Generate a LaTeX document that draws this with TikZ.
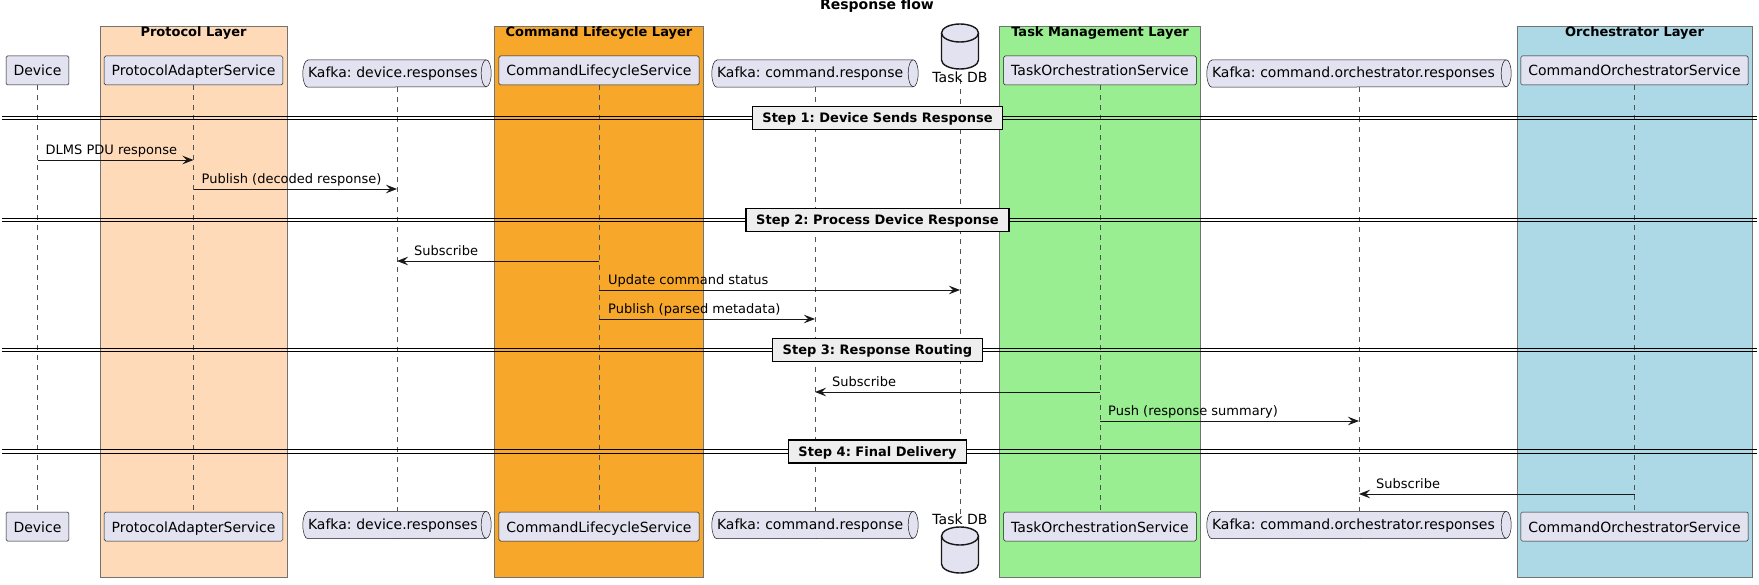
\documentclass[tikz,border=0pt]{standalone}
\usepackage{fontspec}
\setmainfont{DejaVu Sans}
\frenchspacing
\usetikzlibrary{arrows.meta,calc}
\definecolor{part}{HTML}{E2E2F0}
\definecolor{ln}{HTML}{181818}
\definecolor{peach}{HTML}{FFDAB9}
\definecolor{orng}{HTML}{F7A72A}
\definecolor{lgreen}{HTML}{98EE90}
\definecolor{lblue}{HTML}{ADD8E6}
\definecolor{divfill}{HTML}{EEEEEE}
\pgfdeclarelayer{back}
\pgfdeclarelayer{shape}
\pgfsetlayers{back,shape,main}
\tikzset{
  partbox/.style={draw=ln, fill=part, line width=0.5pt, rounded corners=1.5pt,
    inner xsep=7.5pt, inner ysep=0pt, minimum height=29pt,
    text height=11pt, text depth=0pt, font=\fontsize{14}{16}\selectfont},
  queuebox/.style={inner xsep=0pt, inner ysep=0pt, minimum width=#1, text width=#1-10pt,
    align=left, minimum height=27pt, text height=9pt, text depth=0pt,
    font=\fontsize{14}{16}\selectfont\frenchspacing},
  qshape/.style={draw=ln, fill=part, line width=0.5pt},
  dbshape/.style={draw=ln, fill=part, line width=1.4pt},
  dblabel/.style={inner sep=0pt, anchor=base, font=\fontsize{14}{16}\selectfont},
  layerbox/.style={draw=black!55, line width=0.6pt},
  layertitle/.style={inner sep=0pt, anchor=base, font=\fontsize{13}{15}\selectfont\bfseries},
  lifeline/.style={draw=ln!75, line width=0.5pt, dash pattern=on 5pt off 5pt},
  msg/.style={draw=ln, line width=0.9pt, -{Stealth[length=11pt,width=8.5pt,inset=4pt]}},
  msglabel/.style={inner sep=0pt, anchor=base west, font=\fontsize{13}{15}\selectfont},
  divline/.style={draw=black, line width=0.9pt},
  divlabel/.style={draw=black, fill=divfill, line width=1.5pt, inner xsep=10pt, inner ysep=0pt,
    minimum height=23pt, text height=10pt, text depth=0pt, font=\fontsize{13}{15}\selectfont\bfseries},
}
\newcommand\drawqueue[1]{%
  \path[qshape] ($(#1.north west)+(5pt,0)$) -- ($(#1.north east)+(-5pt,0)$)
    arc[start angle=90,end angle=-90,x radius=5pt,y radius=13.5pt]
    -- ($(#1.south west)+(5pt,0)$)
    arc[start angle=270,end angle=90,x radius=5pt,y radius=13.5pt] -- cycle;
  \draw[qshape, fill=none] ($(#1.north east)+(-5pt,0)$)
    arc[start angle=90,end angle=270,x radius=5pt,y radius=13.5pt];}
\newcommand\drawdb[3]{%
  \path[dbshape] (#1-18.5,#2+9) arc[start angle=180,end angle=0,x radius=18.5pt,y radius=9pt]
    -- (#1+18.5,#3-9) arc[start angle=0,end angle=-180,x radius=18.5pt,y radius=9pt] -- cycle;
  \draw[dbshape, fill=none] (#1-18.5,#2+9) arc[start angle=180,end angle=360,x radius=18.5pt,y radius=9pt];}
\newcommand\drawlayer[3]{%
  \path[layerbox, fill=#2] let \p1=(#1.west), \p2=(#1.east) in
    (\x1-#3,26) rectangle (\x2+4pt,577);}
\begin{document}
\begin{tikzpicture}[x=1pt,y=-1pt]
\useasboundingbox (0,0) rectangle (1759,585);
% title
\node[inner sep=0pt, anchor=base, font=\fontsize{14}{16}\selectfont\bfseries] (title) at (877,10) {Response flow};
% head participants
\node[partbox] (dev) at (37.5,70.5) {Device};
\node[partbox] (pas) at (193.5,70.5) {ProtocolAdapterService};
\node[queuebox=188pt] (qdr) at (397,73.5) {Kafka: device.responses};
\node[partbox] (cls) at (599,70.5) {CommandLifecycleService};
\node[queuebox=206pt] (qcr) at (815,73.5) {Kafka: command.response};
\node[dblabel] (db) at (960,83) {Task DB};
\node[partbox] (tos) at (1100,70.5) {TaskOrchestrationService};
\node[queuebox=304pt] (qor) at (1359,73.5) {Kafka: command.orchestrator.responses};
\node[partbox] (cos) at (1634.5,70.5) {CommandOrchestratorService};
% foot participants
\node[partbox] (devf) at (37.5,526.5) {Device};
\node[partbox] (pasf) at (193.5,526.5) {ProtocolAdapterService};
\node[queuebox=188pt] (qdrf) at (397,525) {Kafka: device.responses};
\node[partbox] (clsf) at (599,526.5) {CommandLifecycleService};
\node[queuebox=206pt] (qcrf) at (815,525) {Kafka: command.response};
\node[dblabel] (dbf) at (960,524) {Task DB};
\node[partbox] (tosf) at (1100,526.5) {TaskOrchestrationService};
\node[queuebox=304pt] (qorf) at (1359,525) {Kafka: command.orchestrator.responses};
\node[partbox] (cosf) at (1634.5,526.5) {CommandOrchestratorService};
% layer boxes and lifelines
\begin{pgfonlayer}{back}
  \fill[white] (0,0) rectangle (1759,585);
  \drawlayer{pas}{peach}{4pt}
  \drawlayer{cls}{orng}{4pt}
  \drawlayer{tos}{lgreen}{4pt}
  \drawlayer{cos}{lblue}{3.5pt}
  \foreach \a in {dev,pas,qdr,cls,qcr,tos,qor,cos} {\draw[lifeline] (\a.south) -- (\a f.north);}
  \draw[lifeline] ($(db.south)+(0,-4)$) -- ($(dbf.north)+(0,4)$);
\end{pgfonlayer}
\begin{pgfonlayer}{shape}
  \foreach \q in {qdr,qcr,qor,qdrf,qcrf,qorf} {\drawqueue{\q}}
  \drawdb{960}{24}{69}
  \drawdb{960}{527}{573}
\end{pgfonlayer}
\node[layertitle] (lp) at (pas |- 0,37) {Protocol Layer};
\node[layertitle] (lc) at (cls |- 0,37) {Command Lifecycle Layer};
\node[layertitle] (lt) at (tos |- 0,37) {Task Management Layer};
\node[layertitle] (lo) at (cos |- 0,37) {Orchestrator Layer};
% dividers
\foreach \y/\t/\n in {118/{Step 1: Device Sends Response}/d1, 220/{Step 2: Process Device Response}/d2,
                     350/{Step 3: Response Routing}/d3, 451.5/{Step 4: Final Delivery}/d4} {
  \draw[divline] (2,\y-1.6) -- (1757,\y-1.6);
  \draw[divline] (2,\y+1.6) -- (1757,\y+1.6);
  \node[divlabel] (\n) at (877.5,\y) {\t};
}
% messages
\draw[msg] (dev |- 0,160) -- (pas |- 0,160);
\node[msglabel] (m1) at ($(dev |- 0,160)+(8,-5.5)$) {DLMS PDU response};
\draw[msg] (pas |- 0,189) -- (qdr |- 0,189);
\node[msglabel] (m2) at ($(pas |- 0,189)+(8,-5.5)$) {Publish (decoded response)};
\draw[msg] (cls |- 0,261) -- (qdr |- 0,261);
\node[msglabel] (m3) at ($(qdr |- 0,261)+(17,-5.5)$) {Subscribe};
\draw[msg] (cls |- 0,290) -- (db |- 0,290);
\node[msglabel] (m4) at ($(cls |- 0,290)+(9,-5.5)$) {Update command status};
\draw[msg] (cls |- 0,319) -- (qcr |- 0,319);
\node[msglabel] (m5) at ($(cls |- 0,319)+(9,-5.5)$) {Publish (parsed metadata)};
\draw[msg] (tos |- 0,392) -- (qcr |- 0,392);
\node[msglabel] (m6) at ($(qcr |- 0,392)+(17,-5.5)$) {Subscribe};
\draw[msg] (tos |- 0,421) -- (qor |- 0,421);
\node[msglabel] (m7) at ($(tos |- 0,421)+(8,-5.5)$) {Push (response summary)};
\draw[msg] (cos |- 0,494) -- (qor |- 0,494);
\node[msglabel] (m8) at ($(qor |- 0,494)+(17,-5.5)$) {Subscribe};
\end{tikzpicture}
\end{document}
